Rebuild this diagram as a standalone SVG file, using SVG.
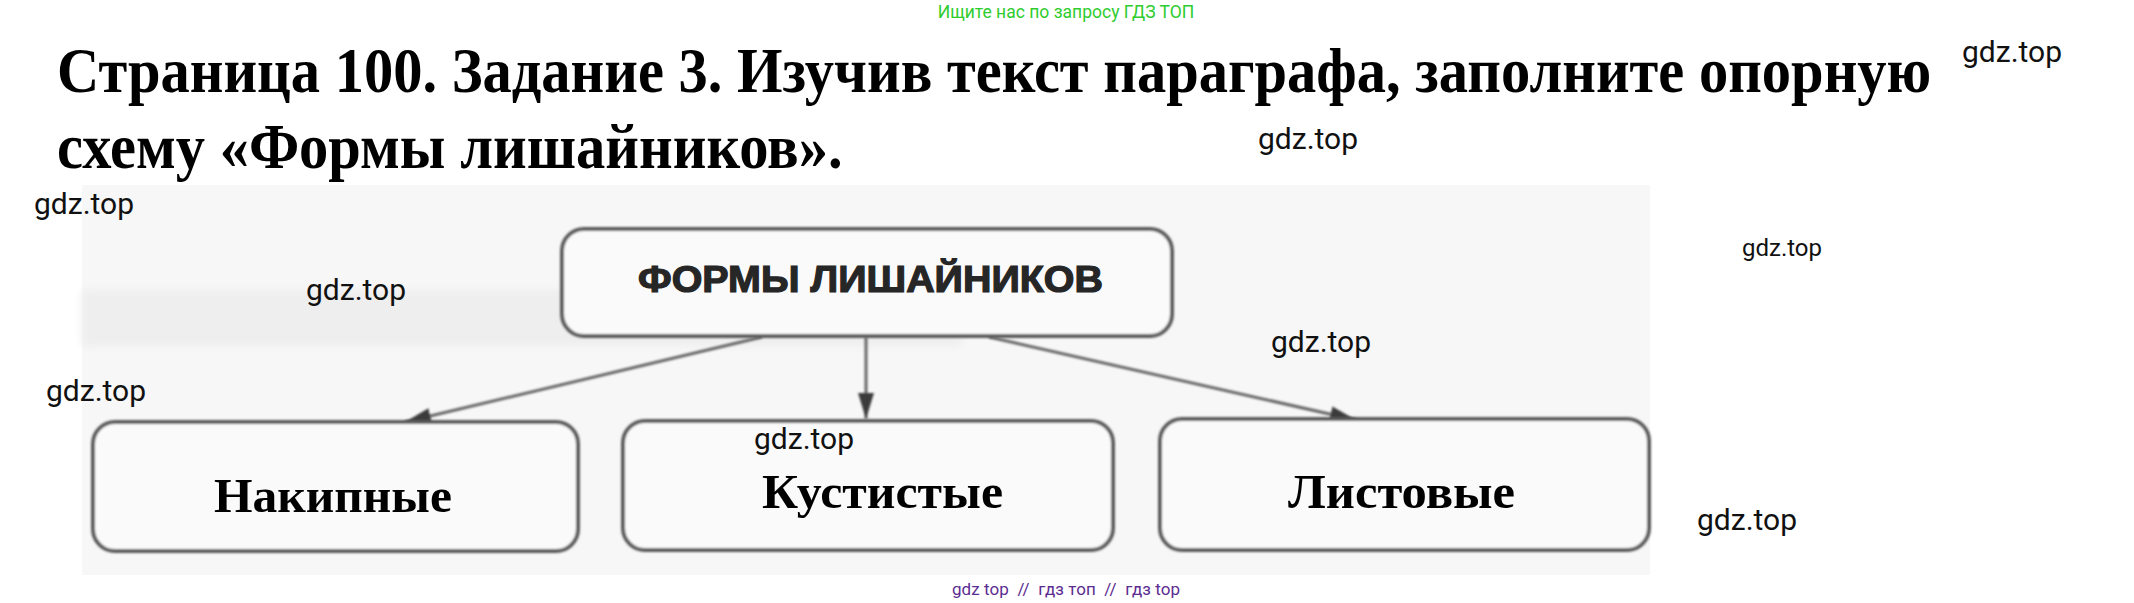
<svg xmlns="http://www.w3.org/2000/svg" width="2134" height="603" viewBox="0 0 2134 603">
<defs>
<style>
.wm{font-family:Roboto,"Liberation Sans",sans-serif;font-size:30px;fill:#111}
.title{font-family:"Liberation Serif","Times New Roman",serif;font-weight:bold;font-size:58.5px;fill:#000}
.lbl{font-family:"Liberation Serif","Times New Roman",serif;font-weight:bold;font-size:48px;fill:#000}
.box{fill:#fafafa;stroke:#5a5a5a;stroke-width:4}
.conn{stroke:#666;stroke-width:3;fill:none}
</style>
<marker id="ah" markerUnits="userSpaceOnUse" markerWidth="28" markerHeight="20" refX="26" refY="10" orient="auto">
<path d="M0,2 L26,10 L0,18 Z" fill="#3a3a3a"/>
</marker>
<filter id="soft" x="-5%" y="-5%" width="110%" height="110%"><feGaussianBlur stdDeviation="0.8"/></filter>
<filter id="blur3"><feGaussianBlur stdDeviation="4"/></filter>
</defs>
<rect width="2134" height="603" fill="#fff"/>
<text x="1066" y="18" text-anchor="middle" style="font-family:Roboto,'Liberation Sans',sans-serif;font-size:17.5px;fill:#2ecc2e">Ищите нас по запросу ГДЗ ТОП</text>
<g transform="scale(1,1.08)">
<text class="title" x="57" y="85.2">Страница 100. Задание 3. Изучив текст параграфа, заполните опорную</text>
<text class="title" x="57" y="155.6">схему «Формы лишайников».</text>
</g>
<g id="scan">
<rect x="82" y="185" width="1568" height="390" fill="#f7f7f7"/>
<rect x="82" y="290" width="880" height="56" fill="#eeeeee" filter="url(#blur3)"/>
</g>
<g id="connectors" filter="url(#soft)">
<line class="conn" x1="762" y1="337" x2="405" y2="422" marker-end="url(#ah)"/>
<line class="conn" x1="866" y1="337" x2="866" y2="419" marker-end="url(#ah)"/>
<line class="conn" x1="989" y1="337" x2="1356" y2="420" marker-end="url(#ah)"/>
</g>
<g id="root">
<rect class="box" x="562" y="229" width="610" height="107" rx="22" filter="url(#soft)"/>
<text x="638" y="292" textLength="465" lengthAdjust="spacingAndGlyphs" style="font-family:'Liberation Sans',Arial,sans-serif;font-weight:bold;font-size:37px;fill:#262626;stroke:#262626;stroke-width:1.2">ФОРМЫ ЛИШАЙНИКОВ</text>
</g>
<g id="n1">
<rect class="box" x="93" y="422" width="485" height="129" rx="22" filter="url(#soft)"/>
<text class="lbl" x="214" y="512" textLength="238" lengthAdjust="spacingAndGlyphs">Накипные</text>
</g>
<g id="n2">
<rect class="box" x="623" y="421" width="490" height="129" rx="22" filter="url(#soft)"/>
<text class="lbl" x="762" y="508" textLength="241" lengthAdjust="spacingAndGlyphs">Кустистые</text>
</g>
<g id="n3">
<rect class="box" x="1160" y="419" width="489" height="131" rx="22" filter="url(#soft)"/>
<text class="lbl" x="1288" y="508" textLength="227" lengthAdjust="spacingAndGlyphs">Листовые</text>
</g>
<g id="watermarks">
<text class="wm" x="1962" y="62">gdz.top</text>
<text class="wm" x="1258" y="149">gdz.top</text>
<text class="wm" x="34" y="214">gdz.top</text>
<text class="wm" x="306" y="300">gdz.top</text>
<text class="wm" x="46" y="401">gdz.top</text>
<text class="wm" x="754" y="449">gdz.top</text>
<text class="wm" x="1271" y="352">gdz.top</text>
<text class="wm" x="1742" y="256" style="font-size:24px">gdz.top</text>
<text class="wm" x="1697" y="530">gdz.top</text>
</g>
<text x="952" y="595" textLength="228" lengthAdjust="spacing" xml:space="preserve" style="font-family:Roboto,'Liberation Sans',sans-serif;font-size:17px;fill:#5c2d91;white-space:pre">gdz top  //  гдз топ  //  гдз top</text>
</svg>
